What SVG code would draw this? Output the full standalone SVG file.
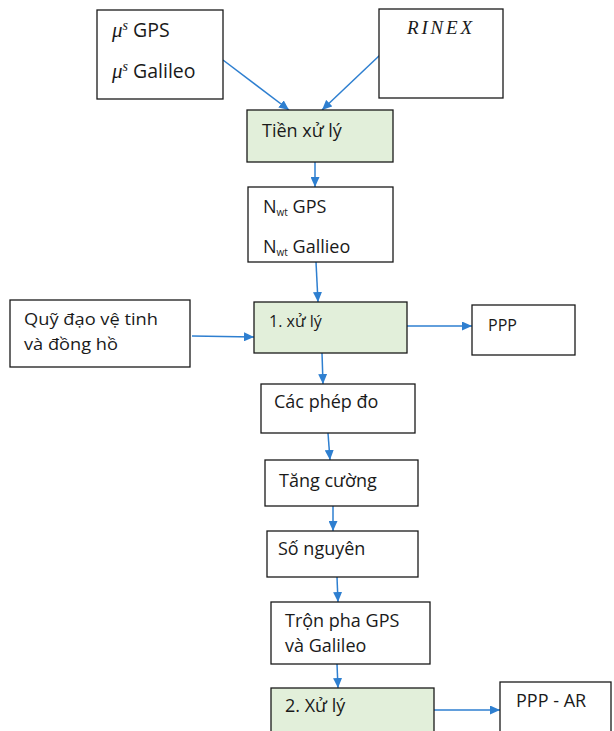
<svg xmlns="http://www.w3.org/2000/svg" width="614" height="731" viewBox="0 0 614 731">
<style>
.b{fill:#ffffff;stroke:#1a1a1a;stroke-width:1.3}
.g{fill:#e2efda;stroke:#1a1a1a;stroke-width:1.3}
.t{font-family:"Open Sans","Liberation Sans",sans-serif;font-size:18px;fill:#1a1a1a}
.m{font-family:"Liberation Serif",serif;font-style:italic;fill:#1a1a1a}
.c{stroke:#2e7fd0;stroke-width:1.5;fill:none;marker-end:url(#ah)}
</style>
<defs>
<marker id="ah" viewBox="0 0 10 10" refX="10" refY="5" markerWidth="10" markerHeight="9" markerUnits="userSpaceOnUse" orient="auto" preserveAspectRatio="none">
<path d="M0,0 L10,5 L0,10 z" fill="#2e7fd0"/>
</marker>
</defs>
<rect width="614" height="731" fill="#ffffff"/>
<g id="connectors">
<path class="c" d="M223,60 L289,110"/>
<path class="c" d="M380,55 L322,110"/>
<path class="c" d="M315,162 L315,187"/>
<path class="c" d="M316,262 L318,302"/>
<path class="c" d="M192,336 L254,337"/>
<path class="c" d="M407,326 L472,326"/>
<path class="c" d="M322,353 L323,384"/>
<path class="c" d="M328,433 L330,460"/>
<path class="c" d="M333,506 L333,531"/>
<path class="c" d="M337,577 L338,602"/>
<path class="c" d="M337,664 L338,688"/>
<path class="c" d="M434,710 L500,710"/>
</g>
<g id="n-mus">
<rect class="b" x="97" y="10" width="126" height="89"/>
<text class="t" x="112" y="37" style="font-size:19.5px"><tspan class="m" font-size="21">μ</tspan><tspan class="m" font-size="14" dy="-7">s</tspan><tspan dy="7"> GPS</tspan></text>
<text class="t" x="112" y="78" style="font-size:19.5px"><tspan class="m" font-size="21">μ</tspan><tspan class="m" font-size="14" dy="-7">s</tspan><tspan dy="7"> Galileo</tspan></text>
</g>
<g id="n-rinex">
<rect class="b" x="379" y="9" width="124" height="89"/>
<text class="m" x="407" y="34" font-size="19" letter-spacing="2.8">RINEX</text>
</g>
<g id="n-tien">
<rect class="g" x="247" y="110" width="146" height="52"/>
<text class="t" x="262" y="137">Tiền xử lý</text>
</g>
<g id="n-nwt">
<rect class="b" x="248" y="187" width="145" height="75"/>
<text class="t" x="263" y="213">N<tspan font-size="10" dy="3">wt</tspan><tspan dy="-3"> GPS</tspan></text>
<text class="t" x="263" y="253">N<tspan font-size="10" dy="3">wt</tspan><tspan dy="-3"> Gallieo</tspan></text>
</g>
<g id="n-quy">
<rect class="b" x="10" y="300" width="180" height="67"/>
<text class="t" x="24" y="325" style="font-size:16.5px" textLength="134" lengthAdjust="spacingAndGlyphs">Quỹ đạo vệ tinh</text>
<text class="t" x="24" y="350" style="font-size:16.5px" textLength="94" lengthAdjust="spacingAndGlyphs">và đồng hồ</text>
</g>
<g id="n-xl1">
<rect class="g" x="254" y="302" width="153" height="51"/>
<text class="t" x="269" y="327" style="font-size:16px">1. xử lý</text>
</g>
<g id="n-ppp">
<rect class="b" x="472" y="305" width="103" height="50"/>
<text class="t" x="488" y="331" style="font-size:16px">PPP</text>
</g>
<g id="n-cac">
<rect class="b" x="261" y="384" width="154" height="49"/>
<text class="t" x="274" y="408">Các phép đo</text>
</g>
<g id="n-tang">
<rect class="b" x="265" y="460" width="153" height="46"/>
<text class="t" x="279" y="487">Tăng cường</text>
</g>
<g id="n-so">
<rect class="b" x="267" y="531" width="151" height="46"/>
<text class="t" x="278" y="555">Số nguyên</text>
</g>
<g id="n-tron">
<rect class="b" x="271" y="602" width="159" height="62"/>
<text class="t" x="285" y="627">Trộn pha GPS</text>
<text class="t" x="285" y="652">và Galileo</text>
</g>
<g id="n-xl2">
<rect class="g" x="271" y="688" width="163" height="60"/>
<text class="t" x="285" y="712">2. Xử lý</text>
</g>
<g id="n-pppar">
<rect class="b" x="500" y="682" width="111" height="60"/>
<text class="t" x="516" y="707">PPP - AR</text>
</g>
</svg>
